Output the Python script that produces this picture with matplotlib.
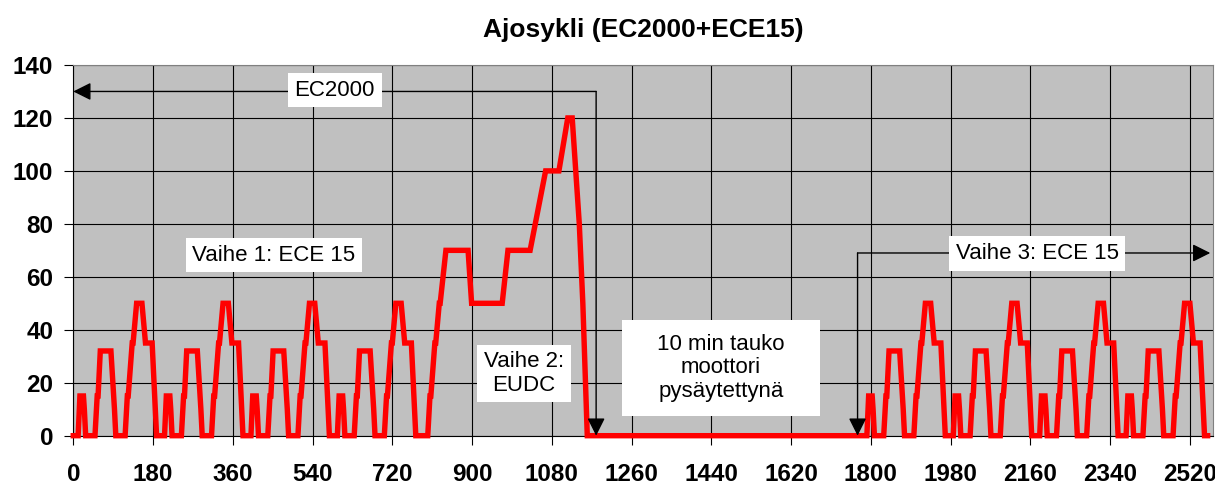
import matplotlib
matplotlib.use('Agg')
import matplotlib.pyplot as plt
from matplotlib.patches import Rectangle
import numpy as np

plt.rcParams.update({
    'font.family': ['Liberation Sans', 'DejaVu Sans'],
    'font.size': 16,
})

# ECE 15 urban cycle breakpoints (s, km/h), one 195 s cycle
ece15_t = [0, 11, 15, 23, 25, 28, 49, 54, 56, 61, 85, 93, 96, 117, 122, 124,
           133, 135, 143, 155, 163, 176, 178, 185, 188, 195]
ece15_v = [0, 0, 15, 15, 10, 0, 0, 15, 15, 32, 32, 10, 0, 0, 15, 15,
           35, 35, 50, 50, 35, 35, 35, 10, 0, 0]

# EUDC extra-urban cycle breakpoints (s, km/h), 400 s
eudc_t = [0, 20, 25, 27, 36, 38, 46, 48, 61, 111, 119, 188, 201, 251, 286,
          316, 336, 346, 362, 370, 380, 400]
eudc_v = [0, 0, 15, 15, 35, 35, 50, 50, 70, 70, 50, 50, 70, 70, 100,
          100, 120, 120, 80, 50, 0, 0]

# start times of each block
ece15_starts_1 = [0, 195, 390, 585]
eudc_start = 780
ece15_starts_3 = [1780, 1975, 2170, 2365]

t_all, v_all = [], []
for s in ece15_starts_1:
    t_all += [s + t for t in ece15_t]
    v_all += ece15_v
t_all += [eudc_start + t for t in eudc_t]
v_all += eudc_v
for s in ece15_starts_3:
    t_all += [s + t for t in ece15_t]
    v_all += ece15_v

fig = plt.figure(figsize=(12.15, 4.86), dpi=100)
ax = fig.add_axes([0.0603, 0.1035, 0.938, 0.7628])
ax.set_facecolor('#C0C0C0')

ax.plot(t_all, v_all, color='#FF0000', lw=3.9, solid_joinstyle='miter',
        clip_on=False, zorder=3)

ax.set_xlim(0, 2572)
ax.set_ylim(0, 140)
ax.set_xticks(np.arange(0, 2521, 180))
ax.set_yticks(np.arange(0, 141, 20))
ax.grid(True, color='black', lw=0.8)
ax.set_axisbelow(True)
ax.tick_params(axis='both', direction='out', length=6.5, width=0.8,
               labelsize=17.5)
ax.tick_params(axis='x', pad=13)
ax.tick_params(axis='y', pad=8)
for lab in ax.get_xticklabels() + ax.get_yticklabels():
    lab.set_fontweight('bold')
for side in ['top', 'right']:
    ax.spines[side].set_color('#808080')
for side in ['left', 'bottom']:
    ax.spines[side].set_color('black')

ax.set_title('Ajosykli (EC2000+ECE15)', fontsize=19, fontweight='bold', pad=20)

head = dict(arrowstyle='-|>,head_length=0.6,head_width=0.3', color='black',
            lw=1, mutation_scale=18, shrinkA=0, shrinkB=0)

# EC2000 bracket arrows
ax.annotate('', xy=(0, 130), xytext=(1180, 130), arrowprops=head, zorder=4)
ax.annotate('', xy=(1180, 0), xytext=(1180, 130), arrowprops=head, zorder=4)
# Vaihe 3 bracket arrows
ax.annotate('', xy=(2566, 69), xytext=(1770, 69), arrowprops=head, zorder=4)
ax.annotate('', xy=(1770, 0), xytext=(1770, 69), arrowprops=head, zorder=4)

box = dict(boxstyle='square,pad=0.3', fc='white', ec='none')
ax.text(590, 130.5, 'EC2000', ha='center', va='center', bbox=box, zorder=5)
ax.text(453, 68.2, 'Vaihe 1: ECE 15', ha='center', va='center', bbox=box, zorder=5)
ax.text(2175, 68.8, 'Vaihe 3: ECE 15', ha='center', va='center', bbox=box, zorder=5)
ax.text(1017, 23.5, 'Vaihe 2:\nEUDC', ha='center', va='center', bbox=box,
        linespacing=1.15, zorder=5)

ax.add_patch(Rectangle((1239, 7.4), 446, 36.3, fc='white', ec='none', zorder=5))
ax.text(1462, 25.6, '10 min tauko\nmoottori\npysäytettynä', ha='center',
        va='center', linespacing=1.15, zorder=6)

fig.savefig('out.png', dpi=100)
